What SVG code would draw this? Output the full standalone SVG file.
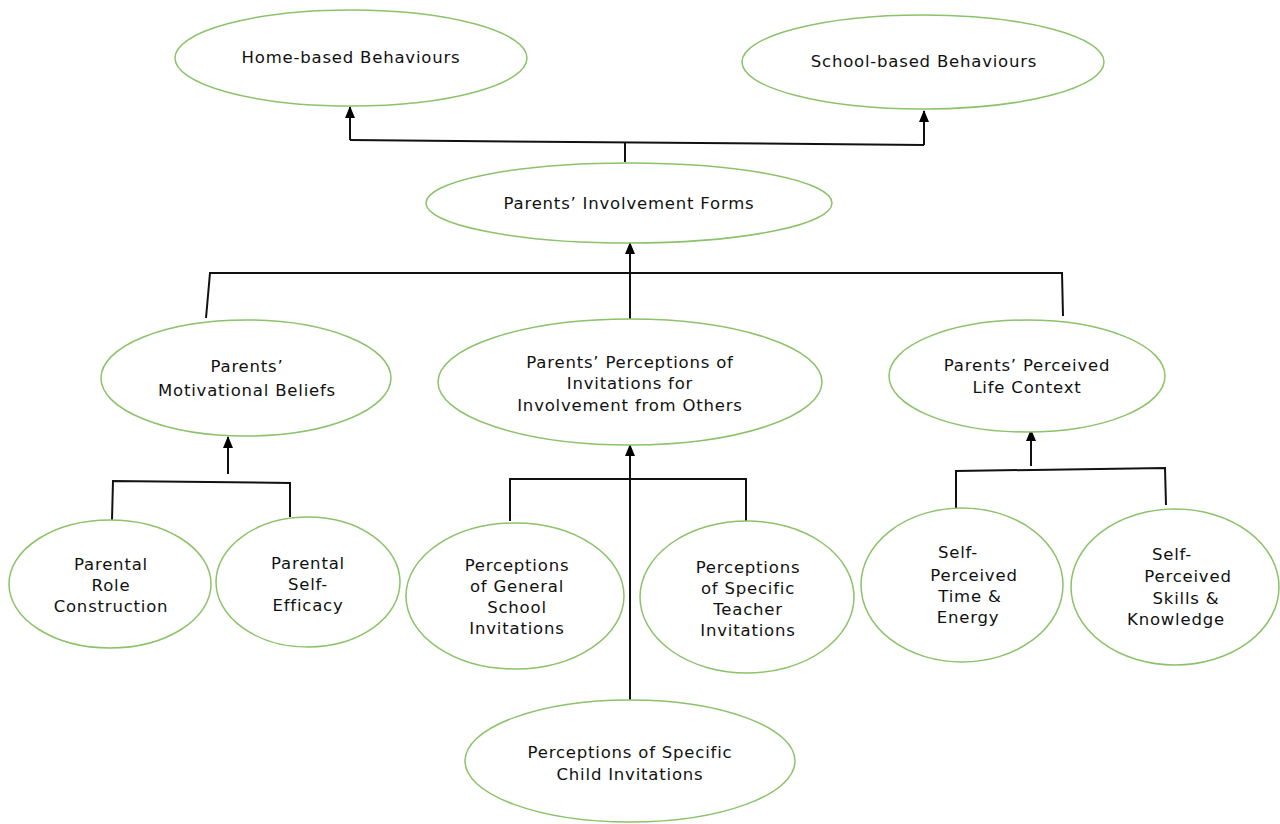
<svg xmlns="http://www.w3.org/2000/svg" width="1280" height="824" viewBox="0 0 1280 824">
<defs>
<marker id="ah" viewBox="0 0 12 10" refX="11" refY="5" markerWidth="12" markerHeight="11" markerUnits="userSpaceOnUse" orient="auto">
<path d="M0,0 L12,5 L0,10 z" fill="#000"/>
</marker>
<style>
ellipse{fill:#fff;stroke:#8cc26a;stroke-width:1.5}
text{font-family:"DejaVu Sans","Verdana",sans-serif;font-size:16.5px;letter-spacing:0.8px;fill:#111;text-anchor:middle}
.c line,.c polyline{stroke:#111;stroke-width:2;fill:none}
</style>
</defs>
<rect width="1280" height="824" fill="#fff"/>
<g class="c" id="connectors">
<polyline points="625,162 625,142"/>
<polyline points="350,140 924,145"/>
<line x1="350" y1="140" x2="350" y2="107" marker-end="url(#ah)"/>
<line x1="924" y1="145" x2="924" y2="111" marker-end="url(#ah)"/>
<line x1="630" y1="320" x2="630" y2="243" marker-end="url(#ah)"/>
<polyline points="206,318 210,273 1062,273 1063,316"/>
<line x1="228" y1="474" x2="228" y2="437" marker-end="url(#ah)"/>
<polyline points="112,520 113,481 290,483 290,517"/>
<line x1="630" y1="700" x2="630" y2="445" marker-end="url(#ah)"/>
<polyline points="510,521 510,479 746,479 746,521"/>
<line x1="1031" y1="466" x2="1031" y2="430" marker-end="url(#ah)"/>
<polyline points="956,508 956,471 1165,468 1166,505"/>
</g>
<g id="home"><ellipse cx="351" cy="58" rx="176" ry="48"/><text x="351" y="63">Home-based Behaviours</text></g>
<g id="school"><ellipse cx="923" cy="62" rx="181" ry="47"/><text x="924" y="67">School-based Behaviours</text></g>
<g id="forms"><ellipse cx="629" cy="203" rx="203" ry="40"/><text x="629" y="209">Parents’ Involvement Forms</text></g>
<g id="motiv"><ellipse cx="246" cy="378" rx="145" ry="58"/><text x="247" y="372">Parents’</text><text x="247" y="396">Motivational Beliefs</text></g>
<g id="invit"><ellipse cx="630" cy="382" rx="192" ry="63"/><text x="630" y="368">Parents’ Perceptions of</text><text x="630" y="389">Invitations for</text><text x="630" y="411">Involvement from Others</text></g>
<g id="life"><ellipse cx="1027" cy="376" rx="138" ry="56"/><text x="1027" y="371">Parents’ Perceived</text><text x="1027" y="393">Life Context</text></g>
<g id="role"><ellipse cx="110" cy="584" rx="101" ry="64"/><text x="111" y="570">Parental</text><text x="111" y="591">Role</text><text x="111" y="612">Construction</text></g>
<g id="efficacy"><ellipse cx="308" cy="582" rx="92" ry="65"/><text x="308" y="569">Parental</text><text x="308" y="590">Self-</text><text x="308" y="611">Efficacy</text></g>
<g id="general"><ellipse cx="515" cy="596" rx="109" ry="73"/><text x="517" y="571">Perceptions</text><text x="517" y="592">of General</text><text x="517" y="613">School</text><text x="517" y="634">Invitations</text></g>
<g id="teacher"><ellipse cx="747" cy="597" rx="107" ry="76"/><text x="748" y="573">Perceptions</text><text x="748" y="594">of Specific</text><text x="748" y="615">Teacher</text><text x="748" y="636">Invitations</text></g>
<g id="time"><ellipse cx="962" cy="585" rx="101" ry="77"/><text x="958" y="558">Self-</text><text x="974" y="581">Perceived</text><text x="970" y="602">Time &amp;</text><text x="968" y="623">Energy</text></g>
<g id="skills"><ellipse cx="1175" cy="587" rx="104" ry="78"/><text x="1172" y="560">Self-</text><text x="1188" y="582">Perceived</text><text x="1186" y="604">Skills &amp;</text><text x="1176" y="625">Knowledge</text></g>
<g id="child"><ellipse cx="630" cy="761" rx="165" ry="61"/><text x="630" y="758">Perceptions of Specific</text><text x="630" y="780">Child Invitations</text></g>
</svg>
